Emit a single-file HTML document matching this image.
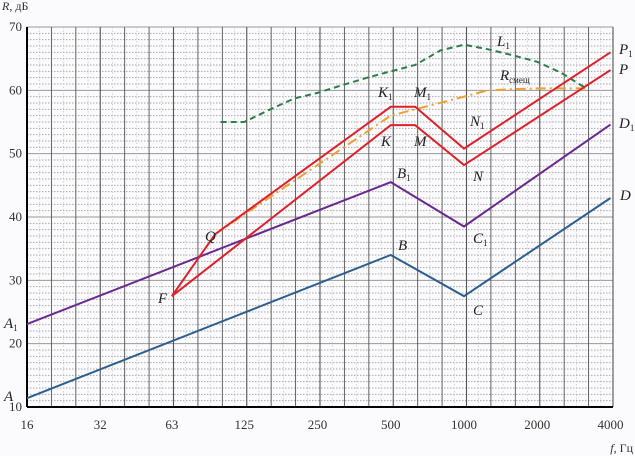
<!DOCTYPE html>
<html><head><meta charset="utf-8"><style>
body{margin:0;background:#fbfbfd;}
svg{display:block;font-family:"Liberation Serif",serif;}
</style></head><body>
<svg id="c" width="635" height="456"></svg>
<script>
const freqTicks=[16,32,63,125,250,500,1000,2000,4000];
const dbTicks=[10,20,30,40,50,60,70];
const seriesA_f=[16,500,1000,4000]; const seriesA_v=[11.4,34,27.5,43];
const seriesA1_f=[16,500,1000,4000]; const seriesA1_v=[23.1,45.5,38.5,54.6];
const seriesP_f=[63,500,630,1000,4000]; const seriesP_v=[27.5,54.5,54.5,48.2,63.2];
const seriesP1_f=[63,95,500,630,1000,4000]; const seriesP1_v=[27.5,37.3,57.4,57.4,50.8,66];
const seriesR_f=[95,500,1000,1250,1600,2000,2500,3150]; const seriesR_v=[37.3,56,59,60,60.2,60.3,60.3,60.3];
const seriesL_f=[100,125,160,200,250,315,400,500,630,800,1000,1250,1600,2000,2500,3150]; const seriesL_v=[55,55,57,58.7,59.6,60.8,62,63,64,66.3,67.2,66.5,65.5,64.5,62.8,60.4];
const ns="http://www.w3.org/2000/svg";
const svg=document.getElementById('c');
const X0=27,X1=613,Y0=407,Y1=27;
function xs(f){return X0+(Math.log2(f/16))*(X1-X0)/8;}
function ys(v){return Y0-(v-10)*(Y0-Y1)/60;}
function el(t,a,p){const e=document.createElementNS(ns,t);for(const k in a)e.setAttribute(k,a[k]);(p||svg).appendChild(e);return e;}
const g=el('g',{});


for(let d=10;d<=70;d++){
  el('line',{x1:X0,x2:X1,y1:ys(d),y2:ys(d),stroke:d%10==0?'#999':'#aaa','stroke-width':1,'stroke-dasharray':d%10==0?'':'1.5,1.5'},g);
}
for(let i=0;i<=24;i++){
  const x=X0+i*(X1-X0)/24;
  el('line',{x1:x,x2:x,y1:Y1,y2:Y0,stroke:'#555','stroke-width':i%3==0?1.1:0.9},g);
  if(i<24){const xm=x+(X1-X0)/48;el('line',{x1:xm,x2:xm,y1:Y1,y2:Y0,stroke:'#bbb','stroke-width':0.6,'stroke-dasharray':'1.5,2'},g);}
}
const ya=el('line',{x1:X0,x2:X0,y1:Y1,y2:Y0,stroke:'#000','stroke-width':2});


const xa=el('line',{x1:X0,x2:X1,y1:Y0,y2:Y0,stroke:'#000','stroke-width':2});


freqTicks.forEach(f=>{const t=el('text',{x:xs(f),y:429,'text-anchor':'middle','font-size':13,fill:'#333'});t.textContent=f;

});
dbTicks.forEach(d=>{const t=el('text',{x:22,y:ys(d)+4,'text-anchor':'end','font-size':13,fill:'#333'});t.textContent=d;

});
function line(fs,vs,color,name,dash){
  const p=el('polyline',{points:fs.map((f,i)=>xs(f)+','+ys(vs[i])).join(' '),fill:'none',stroke:color,'stroke-width':2,'stroke-dasharray':dash||''});
  
  
}
line(seriesL_f,seriesL_v,'#2e7d4a','series-l1','6,4');
line(seriesR_f,seriesR_v,'#f0a030','series-r-smesh','10,4,2,4');
line(seriesA_f,seriesA_v,'#2f5f8f','series-abcd');
line(seriesA1_f,seriesA1_v,'#6a2a8f','series-a1b1c1d1');
line(seriesP_f,seriesP_v,'#e0202a','series-fkmnp');
line(seriesP1_f,seriesP1_v,'#e0202a','series-fqk1m1n1p1');
function lab(x,y,txt,sub,name){
  const t=el('text',{x:x,y:y,'font-size':15,'font-style':'italic',fill:'#222'});
  t.textContent=txt;
  if(sub){const s=el('tspan',{'font-size':9,dy:3,'font-style':'normal'},t);s.textContent=sub;}
  
  
}
lab(4,401,'A','','label-a');lab(4,328,'A','1','label-a1');
lab(398,250,'B','','label-b');lab(397,178,'B','1','label-b1');
lab(473,315,'C','','label-c');lab(473,243,'C','1','label-c1');
lab(620,200,'D','','label-d');lab(619,128,'D','1','label-d1');
lab(158,303,'F','','label-f');lab(205,241,'Q','','label-q');
lab(381,146,'K','','label-k');lab(414,146,'M','','label-m');
lab(378,97,'K','1','label-k1');lab(414,97,'M','1','label-m1');
lab(473,181,'N','','label-n');lab(470,126,'N','1','label-n1');
lab(619,74,'P','','label-p');lab(619,54,'P','1','label-p1');
lab(497,46,'L','1','label-l1');lab(500,80,'R','смещ','label-r-smesh');
const ty=el('text',{x:2,y:10,'font-size':12,fill:'#333'});ty.innerHTML='<tspan font-style="italic">R</tspan>, дБ';


const tx=el('text',{x:633,y:452,'text-anchor':'end','font-size':12,fill:'#333'});tx.innerHTML='<tspan font-style="italic">f</tspan>, Гц';


</script>
</body></html>
